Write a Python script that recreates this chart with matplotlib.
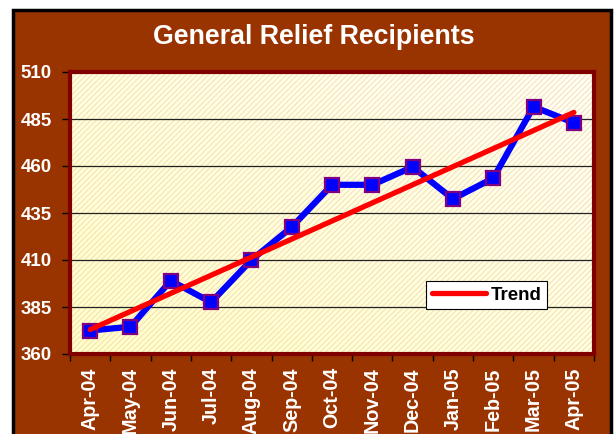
import numpy as np
import matplotlib
matplotlib.use("Agg")
import matplotlib.pyplot as plt
from matplotlib.patches import Rectangle
from matplotlib.colors import LinearSegmentedColormap

plt.rcParams["font.family"] = ["Liberation Sans", "DejaVu Sans"]
plt.rcParams["hatch.linewidth"] = 0.5

# data
months = ["Apr-04", "May-04", "Jun-04", "Jul-04", "Aug-04", "Sep-04", "Oct-04",
          "Nov-04", "Dec-04", "Jan-05", "Feb-05", "Mar-05", "Apr-05"]
recipients = [372.5, 374.5, 399, 387.5, 410, 427.5, 450, 450, 459.5, 442.5, 453.5, 491.5, 483]
trend_ends = [373, 488.5]  # linear trend at first and last month
y_ticks = [360, 385, 410, 435, 460, 485, 510]

brown = "#993300"
dark_red = "#800000"

fig = plt.figure(figsize=(6.16, 4.34), dpi=100)
fig.patch.set_facecolor("white")

# outer chart frame
frame = Rectangle((13 / 616, -0.05), 598 / 616, 1.05 - 10 / 434,
                  transform=fig.transFigure, facecolor=brown,
                  edgecolor="black", linewidth=2.5, zorder=-10)
fig.patches.append(frame)

ax = fig.add_axes([70 / 616, 1 - 354 / 434, 524 / 616, 282 / 434])
ax.set_facecolor("#FFFFCC")
x = np.arange(len(months))
ax.set_xlim(-0.5, len(months) - 0.5)
ax.set_ylim(360, 510)

# pale gradient fill (yellow at lower left, near white at upper right) + hatch
cmap = LinearSegmentedColormap.from_list("bg", ["#FFFFC4", "#FFFFF2"])
gx, gy = np.meshgrid(np.linspace(0, 1, 64), np.linspace(0, 1, 64))
ax.imshow((gx + gy) / 2, cmap=cmap, origin="lower", aspect="auto",
          extent=(-0.5, len(months) - 0.5, 360, 510), zorder=0)
ax.add_patch(Rectangle((0, 0), 1, 1, transform=ax.transAxes, facecolor="none",
                       edgecolor="#F2CFBA", hatch="//////", linewidth=0, zorder=0.5))

for yv in y_ticks[1:-1]:
    ax.axhline(yv, color="#222222", linewidth=0.9, zorder=1)

ax.plot(x, recipients, color="#0000FF", linewidth=4.5, marker="s", markersize=10,
        markerfacecolor="#0000FF", markeredgecolor="#800080", markeredgewidth=1.6,
        zorder=3)
ax.plot([x[0], x[-1]], trend_ends, color="#FF0000", linewidth=3.8,
        solid_capstyle="round", zorder=4, label="Trend")

for s in ax.spines.values():
    s.set_color(dark_red)
    s.set_linewidth(3)

ax.set_yticks(y_ticks)
ax.set_yticklabels([str(v) for v in y_ticks])
ax.set_xticks(np.arange(len(months) + 1) - 0.5)
ax.set_xticklabels([])
ax.set_xticks(x, minor=True)
ax.set_xticklabels(months, minor=True, rotation=90, va="top", ha="center")
ax.tick_params(axis="x", which="minor", length=0, pad=9.5)
ax.tick_params(axis="x", which="major", length=5, width=1, color="black")
ax.tick_params(axis="y", length=6, width=1, color="black", pad=7)
for lab in ax.get_yticklabels():
    lab.set_color("white")
    lab.set_fontweight("bold")
    lab.set_fontsize(13.5)
for lab in ax.get_xticklabels(minor=True):
    lab.set_color("white")
    lab.set_fontweight("bold")
    lab.set_fontsize(14.2)

leg = ax.legend(loc="upper left", bbox_to_anchor=((426 - 70) / 524, (354 - 281) / 282),
                borderaxespad=0, frameon=True, fancybox=False, framealpha=1,
                edgecolor="black", handlelength=2.9, handletextpad=0.25,
                borderpad=0.3, prop={"weight": "bold", "size": 13.5})
leg.get_frame().set_linewidth(0.8)

fig.text(314 / 616, 1 - 43.5 / 434, "General Relief Recipients", color="white",
         fontsize=19.3, fontweight="bold", ha="center", va="baseline")

fig.savefig("out.png", dpi=100, facecolor=fig.get_facecolor())
